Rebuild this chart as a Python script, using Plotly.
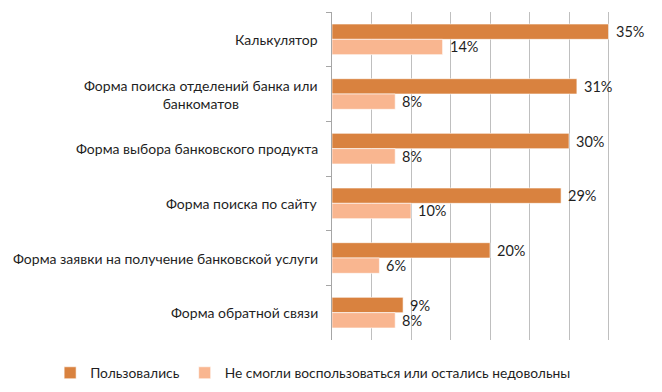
import plotly.graph_objects as go

categories = [
    "Калькулятор",
    "Форма поиска отделений банка или<br>банкоматов",
    "Форма выбора банковского продукта",
    "Форма поиска по сайту",
    "Форма заявки на получение банковской услуги",
    "Форма обратной связи",
]
used = [35, 31, 30, 29, 20, 9]
unsatisfied = [14, 8, 8, 10, 6, 8]
series_names = ["Пользовались", "Не смогли воспользоваться или остались недовольны"]

DARK = "#D9823F"
LIGHT = "#F9B690"
FONT = "Lato"
TXT = "#1f1f1f"

fig = go.Figure()
fig.add_trace(go.Bar(y=categories, x=used, orientation="h", name=series_names[0],
                     marker=dict(color=DARK, line=dict(color="white", width=0.6))))
fig.add_trace(go.Bar(y=categories, x=unsatisfied, orientation="h", name=series_names[1],
                     marker=dict(color=LIGHT, line=dict(color="white", width=0.6))))

ann = []
for c, a, b in zip(categories, used, unsatisfied):
    ann.append(dict(x=a, y=c, xref="x", yref="y", text=f"{a}%", showarrow=False,
                    xanchor="left", xshift=5, yshift=7.5, font=dict(size=14.5, color=TXT, family=FONT)))
    ann.append(dict(x=b, y=c, xref="x", yref="y", text=f"{b}%", showarrow=False,
                    xanchor="left", xshift=5, yshift=-7.5, font=dict(size=14.5, color=TXT, family=FONT)))
    ann.append(dict(x=0, y=c, xref="paper", yref="y", text=c, showarrow=False,
                    xanchor="right", xshift=-12, align="center",
                    font=dict(size=14.0, color=TXT, family=FONT)))

# page has an 8px body margin, so offsets are compensated here
fig.update_layout(
    width=662, height=392,
    margin=dict(l=324, r=22, t=4, b=60, autoexpand=False),
    paper_bgcolor="white", plot_bgcolor="white",
    barmode="group", bargap=0.44, bargroupgap=0,
    font=dict(family=FONT, size=14, color=TXT),
    showlegend=True,
    legend=dict(orientation="h", x=-0.892, xanchor="left", y=-0.1, yanchor="middle",
                font=dict(size=13.8, family=FONT, color=TXT), traceorder="normal"),
    annotations=ann,
    xaxis=dict(range=[0, 40], dtick=5, showticklabels=False, showgrid=True,
               gridcolor="#BFBFBF", gridwidth=1, zeroline=False, showline=False),
    yaxis=dict(autorange="reversed", showticklabels=False, showline=True, linecolor="#A6A6A6",
               ticks="outside", tickson="boundaries", ticklen=5, tickcolor="#A6A6A6",
               showgrid=False),
)

fig.write_html("out.html")
